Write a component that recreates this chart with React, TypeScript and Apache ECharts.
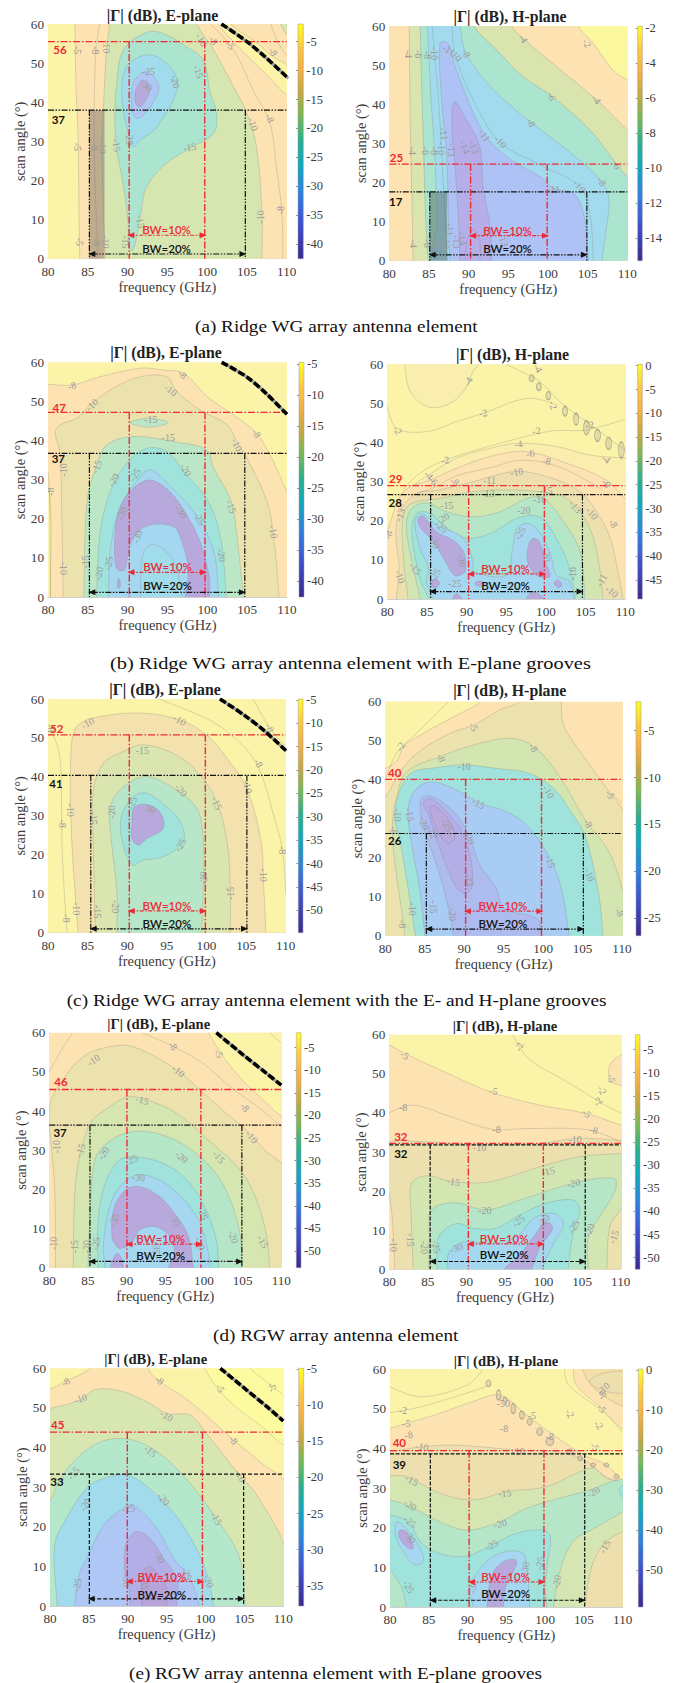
import React, { useEffect, useRef } from "react";
import * as echarts from "echarts";

type Pt = number[];
type Region = [number, Pt[]];
type Label = [number, number, string, number];

// ---------- (a) E-plane
const aE_regions: Region[] = [
  [-5, [[79,-3],[84,-3],[84,0],[83.9,10],[83.8,30],[83.5,45],[83.4,60],[83.4,63],[79,63]]],
  [-10, [[87.5,63],[87.7,60],[87.3,52],[87,40],[86.8,30],[86.9,15],[87.2,0],[87.2,-3],[106.9,-3],[106.9,0],[106.9,11.6],[106.2,28.6],[105,37.2],[103.3,44],[100.8,53.4],[98.7,60],[98.5,63]]],
  [-5, [[102.6,63],[102.9,60],[105.8,55.9],[108.3,51.6],[110.5,48.5],[110.5,41.5],[107.1,47.8],[104.1,53.8],[101.4,60],[101,63]]],
  [-10, [[109,63],[109.2,60],[110.5,56.5],[110.5,63]]],
  [-15, [[92.6,58],[89.5,53.4],[88.6,44],[88.4,36.3],[88.6,28.6],[89.5,18.4],[90.1,8.2],[90.1,3],[90.7,2.2],[91.6,10.7],[92.4,18.4],[94.9,24.4],[97.8,28.2],[100.8,32],[101.2,37.2],[100.4,42.3],[99.5,50.8],[97.4,54.2],[94.9,57.2]]],
  [-20, [[93.2,52],[95.8,47.8],[96.2,43],[93.7,33.7],[91.6,30.3],[90.7,28.6],[90.1,32],[89.3,40.6],[89.5,47.4],[90.7,50.8]]],
  [-25, [[92.4,47.8],[93.9,44.4],[93.4,40.6],[92,36.7],[91.1,35.9],[90.6,38],[90.5,42.3],[90.9,45.7]]],
  [-30, [[92,45.7],[92.8,43.5],[92.4,41],[91.6,38.9],[91,39.7],[91.1,43.5]]],
];
const aE_lines: Pt[][] = [
  [[86.5,60],[86,53],[85.8,29],[86.2,4],[86.3,0]],
  [[100.4,60],[103.3,53.4],[105.8,43],[107.9,34.6],[108.7,23.5],[109.4,11.6],[109.5,0]],
  [[108,60],[109,55],[110,52]],
];
const aE_labels: Label[] = [
  [83.7,53.3,"-5",-90],[86,53.3,"-8",-90],[87.3,54.2,"-10",-90],[99.3,55.9,"-10",-60],[100.8,55.7,"-8",-60],[102.9,54.6,"-5",-50],[108.3,52.9,"-8",-60],
  [92.6,47.8,"-25",0],[92.4,44.4,"-30",-45],[96,45.3,"-20",-80],[98.9,47.8,"-15",-70],[107.9,35.9,"-8",-70],[105.8,34.4,"-10",-70],[90.3,30.8,"-20",-90],
  [88.6,29,"-15",-80],[97.8,28.5,"-15",10],[83.7,28.6,"-5",-90],[85.8,28.6,"-8",-90],[86.8,28.6,"-10",-90],[83.9,4.3,"-5",-90],[86.1,4.3,"-8",-90],
  [87.2,4.3,"-10",-90],[91.6,9.5,"-15",-80],[89.7,4.3,"-15",-90],[106.7,10.7,"-10",90],[109.2,12.4,"-8",90],
];
const aE_thick: Pt[] = [[101.8,60],[105,55.5],[107.5,51.2],[110.2,46.1]];
const aE_shade: Pt[] = [[85.2,0],[87.1,0],[87.1,38],[85.2,38]];
const aE_ticks = [-5,-10,-15,-20,-25,-30,-35,-40];

// ---------- (a) H-plane
const aH_regions: Region[] = [
  [-2, [[103.5,63],[103.8,60],[105.7,55.6],[108.2,48.7],[110,46.2],[110.5,46],[110.5,63]]],
  [-4, [[82.4,63],[82.5,60],[82.6,40],[82.8,20],[83,0],[83,-3],[110.5,-3],[110.5,33],[110,33.4],[106.1,41.2],[101.1,49.6],[96.9,56.8],[95.4,60],[95,63]]],
  [-6, [[83.8,63],[83.9,60],[84,50],[84.3,30],[84.6,10],[84.9,0],[84.9,-3],[110.5,-3],[110.5,21],[110,21.5],[108.7,24.5],[105.3,33.4],[100.5,42],[96.9,47],[93.5,53.9],[90.6,60],[90.4,63]]],
  [-8, [[84.7,63],[84.8,60],[85.3,40],[85.7,28],[86,10],[86,-3],[106.8,-3],[106.8,0],[107.4,8.7],[107.7,15.5],[106.8,20.2],[102,29],[97.9,35.3],[93,44],[89.7,53],[88.9,60],[88.8,63]]],
  [-11, [[86.4,55.6],[86.6,41],[87.2,28.3],[87.4,15.5],[87.6,0],[87.6,-3],[105.1,-3],[105.1,0],[104.5,12],[103.2,17.2],[100.7,18.5],[99,21.5],[94.8,26.6],[91.8,33],[88.3,49.6],[87.4,55.6]]],
  [-13, [[88.2,40.6],[87.9,34],[88.3,24],[88.7,11.2],[88.9,0],[88.9,-3],[92.9,-3],[92.9,0],[92.7,8.7],[91.8,19],[91.4,29.1],[89.5,36.8]]],
];
const aH_lines: Pt[][] = [
  [[85.4,60],[86.2,41],[86.6,28],[87,12],[87.3,0]],
  [[87.9,60],[88.3,52.6],[90.6,41],[93.9,30.4],[99,24.5],[104,19],[105.3,12],[105.7,0]],
  [[89.6,0],[89.8,5],[90.6,8],[91.4,5],[91.4,0]],
];
const aH_labels: Label[] = [
  [82.4,52.8,"-4",-90],[83.7,52.8,"-6",-90],[84.8,52.6,"-8",-90],[85.7,53,"-10",-90],[87.5,53.9,"-11",-30],[88.4,52.6,"-10",-50],[89.7,53,"-8",-60],
  [96.9,56.8,"-4",-60],[104.9,55.6,"-2",-60],[100.5,42,"-6",-70],[106.1,41.2,"-4",-50],[97.9,35.3,"-8",-70],[92,32,"-11",-55],[94,30.4,"-10",-45],[90.7,29.1,"-13",-70],
  [82.9,28.1,"-4",-90],[84.5,28.1,"-6",-90],[85.7,28.1,"-8",-90],[86.9,32.5,"-11",-80],[86.6,28.7,"-10",-90],[87.9,28.3,"-13",-90],[89.5,29,"-14",-70],
  [108.7,24.5,"-6",-70],[106.8,20.2,"-8",-60],[104,19,"-10",-50],[100.7,18.3,"-11",0],[83,4.3,"-4",-90],[84.8,4.4,"-6",-90],[86,4.4,"-8",-90],[87.1,4.6,"-10",-90],
  [87.6,8,"-11",-90],[88.5,4.8,"-13",-90],[89.2,5.7,"-14",-80],[94.4,5.3,"-13",-70],
];
const aH_shade: Pt[] = [[85.1,0],[87.3,0],[87.3,17.6],[85.1,17.6]];
const aH_ticks = [-2,-4,-6,-8,-10,-12,-14];

// ---------- (b) E-plane
const bE_regions: Region[] = [
  [-8, [[79,54.4],[80,54.4],[83,54.2],[86.5,56.3],[91.6,58.5],[94.5,58],[97,57.2],[100,51.2],[103.3,46.5],[106.2,41.8],[108.3,34.6],[110,26.9],[110.5,26],[110.5,-3],[80.3,-3],[80.3,0],[80.2,26],[79,32]]],
  [-10, [[81.9,-3],[81.9,0],[81.7,24],[81.5,37],[80.9,42],[81.5,44],[83.6,45.7],[85.3,49.1],[88.2,53.4],[91.6,56.3],[94.9,56.3],[96.2,52.5],[99.1,47.8],[102.5,44],[103.7,39.7],[105,35.4],[107.5,24.4],[108.3,15.8],[109,0],[109,-3]]],
  [-15, [[84.5,-3],[84.5,0],[84.9,24.4],[86.1,33.7],[87.4,38.9],[90.7,41],[95.8,39.7],[99.9,37.6],[100.8,32.9],[103,24.4],[103.7,15.8],[104.5,0],[104.5,-3]]],
  [-15, [[90.3,44.6],[92.6,45.7],[95.1,44.6],[92.6,43.4]]],
  [-20, [[86.1,-3],[86.1,0],[86.5,15.8],[87.8,26.9],[89.9,34.2],[92.4,38],[94.9,37.2],[97.4,31.2],[99.9,25.2],[101.6,15.8],[102.4,0],[102.4,-3]]],
  [-25, [[87.6,-3],[87.6,0],[87.8,11.6],[89,22.7],[91.1,29.5],[92.8,32.5],[95.2,28.6],[98.6,21],[100.8,11.6],[101.4,0],[101.4,-3]]],
  [-30, [[88.4,15.8],[89,22.7],[90.7,27.8],[92.8,29.9],[95.3,26.9],[97.4,21],[99.1,14.1],[100.2,5.6],[100.3,-1],[100.3,-3],[97.2,-3],[97.2,-1],[97.6,7.3],[96.8,14.1],[95.8,17.9],[92.8,18.4],[90.9,15.8],[90.1,11.6],[89.6,6.9],[88.6,7.3]]],
  [-30, [[88.7,3],[88.9,4.8],[89.1,3],[88.9,2.2]]],
  [-35, [[91.6,-3],[91.6,0],[92,11.6],[93.5,13.3],[95.8,9],[96.8,0],[96.8,-3]]],
];
const bE_lines: Pt[][] = [[[80.3,0],[80.2,26],[80,32]]];
const bE_labels: Label[] = [
  [83,54,"-8",15],[85.5,49.1,"-10",45],[96.9,56.9,"-8",-45],[95.4,52.9,"-10",-35],[92.9,45.3,"-15",0],[95.1,40.8,"-15",0],[106.2,41.8,"-8",-60],[103.7,38.9,"-10",-65],
  [81.9,32.5,"-10",90],[80.3,26.9,"-8",90],[86.1,33.3,"-15",70],[88.2,29.9,"-20",60],[90.9,31.2,"-25",60],[97.3,32.5,"-20",-60],[103,23.1,"-15",-70],[108.3,16.7,"-10",-80],
  [99,20.1,"-25",-60],[96.7,21.8,"-30",-55],[89.3,21.4,"-30",70],[91.2,15.4,"-30",70],[101.8,10.7,"-20",-80],[81.9,7.3,"-10",-90],[84.7,9,"-15",90],[86.4,6,"-20",80],[87.6,8.6,"-25",80],
];
const bE_thick: Pt[] = [[101.8,60],[105,56.2],[107.5,51.8],[110,46.7]];
const bE_ticks = [-5,-10,-15,-20,-25,-30,-35,-40];

// ---------- (b) H-plane
const bH_regions: Region[] = [
  [-3, [[82.2,63],[82.2,60],[82.9,53],[85,49.2],[87.5,49.6],[89.6,53],[90.8,58.1],[91.5,60],[91.6,63]]],
  [-4, [[79,12],[80,17],[81.5,25],[83.3,29.1],[85.2,31.7],[88.7,36],[92.9,38.5],[96.5,39.8],[101.3,39],[105.5,36.8],[110.2,36],[110.5,36],[110.5,-3],[79,-3]]],
  [-6, [[79,12],[80,17.2],[82,27.4],[85.4,30.4],[88.7,33.4],[92.9,36.4],[97.4,37.7],[102.6,34.7],[107.6,30.4],[110,25.7],[110.5,25],[110.5,-3],[79,-3]]],
  [-10, [[82,-3],[81.5,8],[81.2,19.8],[83.3,26.6],[86.6,27.9],[90.8,30],[96.3,32.6],[100.9,30.8],[104.3,27.4],[106.4,22.3],[108.1,15.5],[109,7.8],[109.7,0],[109.7,-3]]],
  [-15, [[82.6,-3],[82.6,0],[82,11.2],[82,21.5],[83.1,24.5],[86.6,25.7],[90.8,27.4],[95,27.9],[99.2,27.4],[102.6,25.7],[105.1,19.8],[106.4,12.1],[107.2,0],[107.2,-3]]],
  [-20, [[84.1,-3],[84.1,0],[83.1,9.5],[82.4,18.9],[83.1,23.2],[85,24.5],[87.5,22.3],[90.8,21],[94.2,22.3],[97.6,25.7],[99.7,25.7],[102.2,19.8],[104.3,12.1],[104.9,0],[104.9,-3]]],
  [-25, [[85.2,-3],[85.2,0],[84.1,5.3],[83.1,17.2],[83.7,21.9],[85.4,21.9],[87.9,17.6],[90.4,15.5],[93.4,17.2],[96.3,20.6],[99.2,21],[101.3,15.5],[103,7.8],[103.7,0],[103.7,-3]]],
  [-30, [[83.5,19.8],[84.3,21.9],[86.2,18.9],[89.6,15.5],[90.8,9.5],[90.8,7],[95,6.1],[95.8,13],[96.3,18],[97.6,19.3],[98.8,18],[100.5,12],[101.3,6.1],[103,4.4],[103,-3],[85.8,-3],[85.8,0],[84.9,4.4],[85.2,7.8],[84.1,13]]],
  [-35, [[83.9,20.6],[84.5,21.2],[86.2,17.2],[88.3,15],[89.6,12.1],[89.8,7],[88.5,6],[87.1,10.4],[85.8,14.6],[84.1,18.5]]],
  [-35, [[97.8,13.8],[98.4,15.5],[99.2,14.6],[99.9,9.5],[100.5,5.7],[98.8,6.1],[97.7,9.5]]],
  [-35, [[85.5,4],[86,5.1],[86.6,4],[86,2.7]]],
  [-35, [[91,4],[91.7,4.6],[92.3,3.8],[91.7,3.2]]],
  [-35, [[88.1,-1],[88.7,1.4],[89.6,-1]]],
  [-35, [[101,4],[101.5,4.8],[102,3.6],[101.6,2.9]]],
  [-35, [[97.4,-1],[98.4,1.9],[100.1,-1]]],
];
const bH_lines: Pt[][] = [
  [[80,49.2],[81.2,43.6],[85,42.8],[88.7,45.3],[92.1,47.5],[97.6,51.3],[100.9,50]],
  [[82,28],[84,32],[87.3,35.5],[94.9,40.2],[100.8,43],[105.1,43.2],[110,46]],
  [[83,26.5],[86,28.6],[88.7,31.5],[92.9,33.5],[97,35.5],[102,33.5],[107,28]],
  [[95,60],[97,58],[99,56],[102,50],[106,44],[110,38]],
];
const bH_ripples: number[][] = [
  [98.2,56.4,5,7],[99.1,54.3,5,8],[100.3,52,5,8],[102.4,48,5,10],[103.8,46,5,12],[105.1,43.8,6,14],[106.5,41.8,6,12],[107.9,39.8,6,12],[109.5,38.1,6,16],
];
const bH_labels: Label[] = [
  [90.2,55.6,"-4",60],[92.1,47.5,"-2",10],[81.3,43.2,"-2",-60],[98.8,43,"-2",5],[87.3,35.5,"-2",10],[99,59,"-4",-60],[100.9,49.6,"-2",-70],[105.5,44.5,"-2",10],[107.6,35.8,"-4",-40],
  [85.2,31.7,"-4",-45],[85.8,30.2,"-6",-45],[88.5,30,"-8",-30],[96.5,39.6,"-4",10],[98,37.2,"-6",10],[100.1,35.3,"-8",-10],[96.3,32.5,"-10",10],[92.9,30.4,"-11",0],[92.7,27,"-13",0],
  [100,27.7,"-15",0],[99.2,25.4,"-16",0],[87.5,23.8,"-15",0],[97.2,22.6,"-20",0],[87,20.6,"-20",30],[86.8,18.5,"-25",-40],[86,14.6,"-30",-70],[96.7,16.8,"-25",60],[89.4,9.9,"-30",-80],
  [100.1,11.2,"-30",-80],[88.5,4,"-25",0],[105.8,21.9,"-10",-50],[103.7,23.6,"-13",-50],[108.5,19.3,"-8",-60],[107.6,29.6,"-6",-50],[81.6,5.7,"-10",-70],[83.5,7.8,"-15",-50],
  [80.1,16.4,"-8",70],[107,4.8,"-11",60],[108.3,1.9,"-10",-40],[81.6,21.5,"-13",70],[86,6.1,"-25",60],[103.3,6.5,"-16",90],
];
const bH_ticks = [0,-5,-10,-15,-20,-25,-30,-35,-40,-45];

// ---------- (c) E-plane
const cE_regions: Region[] = [
  [-10, [[83.8,-3],[83.8,0],[83,23.4],[82.9,46.5],[83.8,53.3],[87.8,55.9],[92.5,56.3],[96.7,54.6],[100,50.8],[102.6,44.8],[105.1,37],[106.9,23.4],[107.2,13],[107.5,0],[107.5,-3]]],
  [-15, [[86,-3],[86,0],[85.7,23.4],[85.7,36.2],[87,43.5],[89.5,46.5],[92,48.2],[96.2,45.6],[99.2,40.5],[101.3,33.6],[102.6,23.4],[103,11.4],[103,0],[103,-3]]],
  [-20, [[88.7,-3],[88.7,0],[88.7,10.5],[88,23.4],[87.8,31],[88.5,35.3],[90.8,39.2],[92.9,40],[96.2,36.6],[98.8,31.9],[99.6,23.4],[99.6,11.4],[99.4,0],[99.4,-3]]],
  [-25, [[90.6,17.4],[89.3,24.2],[89.3,30.2],[90.8,35],[92.5,35.8],[95,32.3],[96.7,28.5],[97.1,23.4],[94.6,19.5],[92,18.6]]],
  [-30, [[90.6,28.5],[90.8,31.9],[92,33],[93.7,31.9],[94.6,28.9],[94.4,26.4],[92.5,24.2],[91.4,22.5],[90.6,24.2]]],
];
const cE_lines: Pt[][] = [
  [[82.4,0],[81.8,20],[81.7,35],[81.5,45],[80.8,50],[80,52]],
  [[94,60],[100,55],[103,51],[106.3,43.5],[108.5,30],[109.6,21],[110,10]],
  [[105.9,60],[108,52.5],[110,47.8]],
];
const cE_labels: Label[] = [
  [85,53.8,"-10",30],[96.6,54.6,"-10",-30],[108,52.5,"-8",-70],[80.3,52.5,"-8",-90],[91.9,46.9,"-15",0],[96.8,36.6,"-20",-50],[101.3,33.2,"-15",-65],[106.6,43.5,"-8",-60],[105.2,37.5,"-10",-75],
  [90.6,33.2,"-25",70],[92.7,31.9,"-30",-15],[82.9,31.5,"-10",-90],[81.8,28,"-8",-90],[85.8,29.4,"-15",-90],[88,31,"-20",90],[96.7,22.5,"-25",60],[109.6,21.2,"-8",-90],[107.2,14.8,"-10",-90],
  [103,10.1,"-15",90],[99.6,14,"-20",90],[88.5,6.7,"-20",-90],[86.2,5.4,"-15",-90],[83.6,6.2,"-10",-90],[82.3,3.7,"-8",-90],
];
const cE_thick: Pt[] = [[101.7,60],[104.8,55.8],[107.5,51.5],[110.1,46.6]];
const cE_ticks = [-5,-10,-15,-20,-25,-30,-35,-40,-45,-50,-55];

// ---------- (c) H-plane
const cH_regions: Region[] = [
  [-2, [[79,43],[80,42.9],[81.5,45],[82.3,48.5],[84.5,51.5],[87.5,54.9],[90,57.5],[92,60],[92,63],[79,63]]],
  [-5, [[79,35],[80,35.6],[81.9,42],[84,46.8],[88.2,51.9],[91.2,54],[94.5,57.9],[97,60],[97,63],[102.3,63],[102.3,60],[102.6,54],[104.7,47.2],[108.5,36.5],[110.5,30],[110.5,-3],[79,-3]]],
  [-8, [[82.5,-3],[82.5,0],[81.2,19],[80.9,28.4],[81.4,35.2],[82.7,42],[86.9,45.9],[91.2,48.9],[95.8,50.6],[98.8,48.5],[101.7,42],[105.5,29.2],[108.1,22.4],[109.5,15.6],[110.5,7],[110.5,-3]]],
  [-10, [[83.8,-3],[83.8,0],[81.9,24],[81.2,31],[82.1,38.6],[83.5,42],[86.1,43],[89.9,43.8],[94.1,42.9],[98.3,41.6],[101.3,37.8],[103.8,31],[105.3,25.8],[107,11.3],[107.6,0],[107.6,-3]]],
  [-15, [[85,-3],[85,0],[84.4,11.3],[83.3,24],[82.9,32.6],[83.8,37.4],[85.7,39.4],[88.6,37.8],[92,34],[95.4,31.8],[97.9,28.4],[100.4,21.5],[102.1,13.8],[103.3,0],[103.3,-3]]],
  [-20, [[88.6,-3],[88.6,0],[88.2,5.3],[86.9,15.6],[85.2,25.8],[84.4,32.6],[84.8,35.6],[86.5,35.2],[89,31],[90.7,25],[92,18.1],[94.1,12.1],[95,7],[99.2,4.4],[99.8,0],[99.8,-3]]],
  [-22, [[88.8,13],[86.9,22.4],[85.5,30.9],[84.8,33.9],[85.7,35.2],[87.8,31.8],[89.7,26.7],[90.9,19],[90.9,12],[89.9,11]]],
  [-25, [[85.6,33],[86.3,33.2],[88.2,29.2],[88.8,25],[87.8,23.7],[86.5,27.5]]],
];
const cH_lines: Pt[][] = [
  [[80,40],[81.5,47],[84,52],[86,56],[88,60]],
  [[108.5,36.5],[110,34]],
];
const cH_labels: Label[] = [
  [81.9,48.5,"-2",60],[91.2,53.6,"-5",-60],[87.1,45.6,"-8",-70],[90,43.3,"-10",0],[98.8,48.2,"-8",-60],[108.5,36.2,"-5",-60],[100.7,36.9,"-10",-60],[91.8,33.9,"-15",-30],[105.7,28.8,"-8",-60],
  [81.5,31,"-10",-90],[83.1,31,"-15",-80],[84.9,28.8,"-20",-70],[86,26.6,"-22",-70],[87.8,28.4,"-25",-60],[90.7,25.1,"-20",-70],[81.1,27,"-8",-90],[100.9,19,"-15",-70],[105.9,15.6,"-10",-70],
  [90.7,14.3,"-22",-80],[83.5,6.8,"-10",-90],[82.2,3,"-8",-90],[86.1,7.4,"-15",-90],[88.5,5.5,"-20",-90],[109.7,6,"-8",-60],
];
const cH_ticks = [-5,-10,-15,-20,-25];

// ---------- (d) E-plane
const dE_regions: Region[] = [
  [-5, [[100.6,63],[100.6,60],[103.8,50.5],[107.2,43.7],[110.5,39],[110.5,63]]],
  [-10, [[80.8,-3],[80.8,0],[80.7,20],[80.3,30],[80,40.7],[81.4,47],[84.4,53.9],[87.8,56.4],[90.9,56.4],[96.5,50.5],[99.5,45.4],[102.9,39.4],[105.5,35.1],[108.1,29.6],[110.5,25],[110.5,-3]]],
  [-15, [[83.1,-3],[83.1,0],[83.3,19],[84,29.2],[85.3,36.9],[86.6,39.4],[90,43.5],[92.6,42.8],[96.5,39.4],[100.3,33],[104.7,24.9],[106.8,17.3],[108.1,8],[108.5,0],[108.5,-3]]],
  [-20, [[85,-3],[85,0],[85.3,14.7],[85.9,27.5],[87.4,31.7],[90.4,34.6],[93.9,34.3],[97.8,30.9],[101.2,24.9],[103.4,17.3],[104.7,8],[104.9,0],[104.9,-3]]],
  [-25, [[86.3,-3],[86.3,0],[86.3,11.3],[87.2,21.5],[89.1,27.5],[91.3,28.3],[95.2,26.2],[98.2,21.5],[100.3,14.7],[101.6,7],[101.9,0],[101.9,-3]]],
  [-30, [[87.2,-3],[87.2,0],[87,6.2],[88.1,17.3],[90,22.4],[92.2,23.7],[95.6,20.7],[99.1,13],[100.3,6.2],[100.8,0],[100.8,-3]]],
  [-35, [[88.1,7.9],[88.3,14.7],[89.8,19.8],[91.7,20.7],[94.3,18.1],[96.5,13],[98,7.9],[98.6,0],[98.6,-3],[95.4,-3],[95.4,0],[96.2,3.7],[95.6,7.9],[93.7,10.5],[91.7,9.6],[90.6,6.2],[89.1,4.9],[88.5,6]]],
  [-35, [[87.9,-1],[88.7,3.7],[89.4,2],[89.4,-1]]],
];
const dE_lines: Pt[][] = [
  [[80,50],[82,57],[83,60]],
  [[92,60],[96.5,56],[100,52],[103.5,46],[107,41],[110,36]],
  [[108.5,60],[110,57.3]],
];
const dE_labels: Label[] = [
  [85.7,53,"-10",35],[96,56.7,"-8",-50],[96.7,50.2,"-10",-40],[101.9,54.7,"-5",-60],[105.3,41,"-8",-50],[92,42.8,"-15",-15],[106.2,33.4,"-10",-50],[101.9,28.3,"-15",-50],[97.1,28.3,"-20",-40],
  [80.9,30.9,"-10",90],[84,30,"-15",70],[87,29.2,"-20",55],[90.6,27.5,"-25",30],[91.5,23,"-30",0],[88.4,12.2,"-35",70],[96.3,12.2,"-35",-60],[99.9,13.9,"-25",-70],[103.8,7.9,"-20",-70],
  [107.6,6.6,"-15",-60],[80.5,6.2,"-10",90],[83.2,5.4,"-15",90],[84.8,5.4,"-20",90],[86,6.2,"-25",80],[93.8,5,"-35",-90],[99.5,6.2,"-30",-70],
];
const dE_thick: Pt[] = [[101.6,60],[105.1,54.3],[108.1,49.6],[110,46.6]];
const dE_ticks = [-5,-10,-15,-20,-25,-30,-35,-40,-45,-50];

// ---------- (d) H-plane
const dH_regions: Region[] = [
  [-5, [[79,58],[80,57.4],[82,55.2],[86.6,51],[93.1,45.4],[99.5,42],[105.4,39.9],[110,36.9],[110.5,36.6],[110.5,-3],[79,-3]]],
  [-5, [[110.5,54.8],[110,54.8],[108.6,52.2],[108.6,48.4],[110,47],[110.5,47]]],
  [-10, [[80.7,-3],[80.7,0],[80.3,15],[79.5,25],[79.5,32],[84.8,32.6],[91.3,31.8],[99.5,32.2],[104.3,33.5],[110,33],[110.5,33],[110.5,-3]]],
  [-15, [[83.1,-3],[83.1,0],[82.8,15.2],[82.9,22],[84.8,23.9],[88.3,22.4],[93.1,22.4],[99.5,26.2],[104.7,28.8],[110,29.6],[110.5,29.6],[110.5,16],[110,15.2],[108.6,10.9],[108.2,0],[108.2,-3]]],
  [-20, [[85.1,-3],[85.1,0],[85.2,8.3],[85.5,15.2],[88.5,17],[92.6,15.2],[96.9,17.7],[103.9,22],[109.1,23.3],[109.3,20.3],[107.3,13.5],[105.8,8.3],[105.8,0],[105.8,-3]]],
  [-25, [[86.2,-3],[86.2,0],[86.4,8.3],[88.7,11.7],[90.9,10.5],[93.9,10.5],[96.5,13.5],[100.4,16.9],[103.9,17.7],[104.7,15.2],[103.9,10],[103.2,0],[103.2,-3]]],
  [-30, [[87.6,-3],[87.6,0],[87.7,4],[89.6,7],[93.1,6.6],[96.5,8.3],[98.7,13],[101.3,14.3],[102.6,11.7],[101.3,6.6],[99.8,0],[99.8,-3]]],
  [-35, [[94.9,-3],[94.9,0],[96.5,2.8],[98.7,8.3],[100,11.7],[100.9,11.7],[101.1,10],[99.6,5.8],[98.5,0],[98.5,-3]]],
];
const dH_lines: Pt[][] = [
  [[80,40],[83,42],[88,39],[93.4,35.8],[98,36],[106,35.6],[110,32.5]],
  [[96,60],[98,54],[103,48],[108,42],[110,40]],
];
const dH_labels: Label[] = [
  [82,54.8,"-5",-30],[96.8,56.9,"-2",70],[93.5,45.6,"-5",-10],[107.6,45.8,"-2",-60],[107,42.9,"-2",50],[105.6,39.9,"-5",-40],[108.8,48.8,"-5",-80],[81.8,41.4,"-8",0],[93.9,35.8,"-8",0],
  [106.5,35.6,"-8",-10],[104.1,33.1,"-10",0],[91.7,31.1,"-10",0],[100.6,25,"-15",15],[88.3,22.4,"-15",-10],[103.9,22,"-20",15],[92.4,15,"-20",0],[105.9,10,"-20",70],[103.9,10.9,"-25",60],
  [96.7,12.4,"-25",40],[100,12.4,"-30",50],[88.7,5.4,"-30",20],[80.5,6.2,"-10",-90],[82.7,7.5,"-15",-90],[84.6,5.6,"-20",-90],[86.1,5.8,"-25",-80],[109.1,8.3,"-15",70],
];
const dH_ticks = [-5,-10,-15,-20,-25,-30,-35,-40,-45,-50];

// ---------- (e) E-plane
const eE_regions: Region[] = [
  [-8, [[79,55],[80,54.8],[81.9,56.6],[85.1,60],[85.1,63],[92.6,63],[92.6,60],[93.9,57],[98,51.6],[103.6,41.9],[107,36.4],[110.5,30],[110.5,-3],[79,-3]]],
  [-5, [[99.9,63],[99.9,60],[102.7,52.4],[107,45.7],[110.5,41],[110.5,63]]],
  [-10, [[79,49.9],[80,49.9],[83.9,52],[85.6,54.5],[88.6,54.5],[92.4,51.6],[95,48.6],[98,48.2],[100.1,43.6],[104.4,33],[106.6,28],[110.5,13],[110.5,-3],[79,-3]]],
  [-15, [[79,26],[80,26.5],[80.9,30.5],[83,36.4],[86,41],[89,42.3],[92.4,40.6],[96.3,34.7],[101.4,22.1],[104.4,12],[105.1,0],[105.1,-3],[79,-3]]],
  [-20, [[80.9,-3],[80.9,0],[80.6,15.4],[82.1,22.1],[84.7,29.7],[86.9,32.2],[90.3,32.8],[94.6,26.3],[97.6,18.8],[100.1,8.7],[101,0],[101,-3]]],
  [-25, [[83.2,-3],[83.2,0],[83.6,7],[84.7,12],[86.9,20.4],[89.4,24.6],[90.7,25.5],[93.7,19.6],[95.9,12],[98,7],[99.2,0],[99.2,-3]]],
  [-30, [[89.6,13.7],[89.9,16.2],[91.1,18.8],[92.9,17],[94.6,12],[96.3,7],[96.3,0],[96.3,-3],[90.3,-3],[90.3,0],[90.1,5.3],[89.6,8.7]]],
  [-35, [[92.2,9.5],[93.3,9.5],[95,4.4],[95,0],[95,-3],[91.8,-3],[91.8,0],[91.8,5.3]]],
];
const eE_lines: Pt[][] = [[[105.7,60],[108,56.3],[110,53.3]]];
const eE_labels: Label[] = [
  [82,56.6,"-8",30],[94.1,57,"-8",-40],[108.5,55.1,"-5",60],[101.9,55,"-5",-60],[83.9,52.4,"-10",20],[95,48,"-10",-30],[103.6,41.9,"-8",-50],[104.5,32.9,"-10",-60],[92.9,39.1,"-15",-40],
  [83,33.5,"-15",50],[101.4,22.1,"-15",-60],[94.6,27,"-20",-50],[84.5,25.5,"-20",60],[90.1,24.6,"-25",10],[94.1,12.4,"-30",-65],[83.5,5.3,"-25",80],[100.4,6.3,"-20",-70],[97.6,8.2,"-25",-70],
  [89.9,6.5,"-30",-90],[92.1,5.7,"-35",-90],
];
const eE_thick: Pt[] = [[101.9,60],[105.3,54.5],[107.9,50.3],[110,46.7]];
const eE_ticks = [-5,-10,-15,-20,-25,-30,-35];

// ---------- (e) H-plane
const eH_regions: Region[] = [
  [-5, [[79,45],[80,45],[82.1,46.3],[86.4,48.8],[90.7,51.8],[94.2,53.4],[97.6,48.4],[100.2,44.6],[103.6,40],[105.4,37.9],[107.9,35.8],[110,31.6],[110.5,31],[110.5,-3],[79,-3]]],
  [-10, [[79,39.2],[80,39.2],[84.1,40.4],[88.6,40.8],[96.3,39.6],[101.5,39.2],[105.1,37],[107.5,33.3],[110,30.8],[110.5,30],[110.5,-3],[79,-3]]],
  [-15, [[79,33],[80,33.1],[82.1,32.9],[86.4,28.7],[90.7,27],[95,29.1],[100.2,30.3],[103.6,33.3],[106.2,35],[107.9,32.4],[110.5,30.8],[110.5,19],[110,19],[107.9,16.5],[106.2,11.4],[105.1,0],[105.1,-3],[79,-3]]],
  [-20, [[79,27],[80,27],[82.6,25.3],[86.4,21.5],[89.9,19.4],[94.2,21.5],[97.6,24.9],[102,27.5],[105.1,29.1],[110.5,32],[110.5,25],[110,24],[106.5,20],[103.6,16.5],[101.9,8.9],[101.1,0],[101.1,-3],[79,-3]]],
  [-25, [[82.1,-3],[82.1,0],[81.5,4.7],[80,9.3],[79,9.3],[79,23.2],[80,23.2],[82.4,21.5],[83.9,16.5],[86.4,13.5],[89.9,12.9],[93.1,15.6],[96.3,18.6],[99.8,19.4],[100.7,17.7],[100.4,12.3],[100,5.5],[100.2,0],[100.2,-3]]],
  [-25, [[109.5,29.5],[110.5,31],[110.5,27]]],
  [-30, [[80.9,21.5],[82.4,19],[83.9,14.8],[84.3,11.4],[83,10.8],[81.7,14],[80.7,18.2]]],
  [-30, [[90.7,-3],[90.7,0],[90.3,4.7],[92.4,11.4],[95,14],[97.2,13.5],[97.6,9.7],[97.8,7.2],[98,0],[98,-3]]],
  [-35, [[81.3,19.4],[82.1,19],[82.8,16.5],[83,14.8],[82.4,14.8],[81.5,16.5],[81.1,18.2]]],
  [-35, [[92.5,-3],[92.5,0],[93.1,8],[94.6,11.4],[96.1,12],[96.3,10.6],[95,5.5],[94.6,0],[94.6,-3]]],
  [-5, [[103.4,63],[103.6,60],[104,56],[106.8,50.9],[110.5,45],[110.5,63]]],
  [-8, [[104.8,63],[104.8,60],[106.4,55],[110.5,51],[110.5,63]]],
  [-10, [[105.8,57.2],[107.4,58.9],[110.5,59],[110.5,54.4],[107.9,54.3],[105.8,56.4]]],
];
const eH_lines: Pt[][] = [
  [[80,55.5],[84,53],[90,56],[92,60]],
  [[80,49],[84,50.5],[90,54],[93,56]],
  [[102.5,60],[103,56],[107.6,49],[110,44]],
];
const eH_ripples: number[][] = [
  [92.7,56.4,5,7],[94,53.4,5,10],[94.8,52.2,4,6],[95.9,50,5,10],[97,48.4,5,8],[98,46.7,5,7],[99.3,44.2,6,8],[100.6,41.7,8,8],[103.2,39.2,7,5],[104.5,37.5,5,5],[106.2,35.8,5,4],[107.9,35.8,5,4],[109.2,32.9,5,5],
];
const eH_labels: Label[] = [
  [81.7,49.5,"-2",0],[82.1,46.3,"-5",0],[82.4,43.4,"-8",10],[84.1,40.4,"-10",-10],[94.6,51.3,"-50",0],[98.3,48.2,"-5",0],[94.7,45,"-8",0],[100.6,42.9,"-8",0],[96.5,39.3,"-10",0],
  [103.2,48.8,"-2",-60],[106.9,45.9,"-2",-50],[107.3,50.1,"-5",-50],[107.3,53.4,"-8",60],[107.5,55.1,"-10",40],[106.4,40.4,"-5",-50],[82.8,32,"-15",-30],[82.6,25.7,"-20",-35],[82.6,21.5,"-25",-40],
  [82.6,17.7,"-30",-60],[94.8,28.7,"-15",5],[94.2,21,"-20",15],[93.1,15.6,"-25",30],[106.2,29,"-20",30],[107.7,15.2,"-15",60],[99.3,11,"-25",80],[101.5,6.4,"-20",80],[82.4,5.1,"-25",-60],
  [97.4,9.7,"-30",80],[90.7,5.1,"-30",80],
];
const eH_ticks = [0,-10,-20,-30,-40,-50];

// ---------- styles and layout
const SERIF = '"Liberation Serif"';
const Y = "#FBF3A8", O = "#FDE3B2", T = "#ECE2AE", G = "#D6E6B1", M = "#B6E6C8", M2 = "#ABE5D0", A = "#9FE3DC", S = "#A6D7F1", P = "#AFC7F4", L = "#B8A9DD", V = "#B3AEE6";
const RAMP = [[0,"#FFFF20"],[0.1,"#FFC840"],[0.2,"#F5AE45"],[0.3,"#C0A840"],[0.38,"#7FB850"],[0.5,"#25B090"],[0.6,"#10A8C0"],[0.72,"#2E80E0"],[0.85,"#3F4FD0"],[1,"#3A2A90"]];
const CONTOUR = "rgba(120,120,120,0.38)";

type Panel = {
  x0: number; x1: number; y0: number; y1: number; cb0: number; cb1: number;
  top: number; bottom: number; ticks: number[];
  bg: string; fill: Record<string, string>;
  regions: Region[]; lines: Pt[][]; labels: Label[];
  red: number[]; black: number[]; blackDash: number[];
  num: [number, number, string, number, number, string];
  bw: [number, number, number];
  thick?: Pt[]; shade?: Pt[]; shadeColor?: string; ripples?: number[][];
  title: [number, number, string, number];
};
const RD = [7, 2, 1.5, 2];
const BD = [6, 1.5, 1.5, 1.5, 1.5, 1.5];

const panels: Panel[] = [
  { x0: 48, x1: 286.7, y0: 24, y1: 258.7, cb0: 298, cb1: 303.3, top: -1.95, bottom: -42.5, ticks: aE_ticks, bg: O,
    fill: { "-5": Y, "-10": G, "-15": M2, "-20": "#A0DCEB", "-25": P, "-30": L }, regions: aE_regions, lines: aE_lines, labels: aE_labels,
    red: [55.5, 90.2, 99.7, 6, 90.4, 99.5], black: [38, 85.2, 104.8, 1.2, 85.5, 104.5], blackDash: BD,
    num: [81.5, 53.5, "56", 81.3, 35.6, "37"], bw: [94.9, 7.5, 2.6], thick: aE_thick, shade: aE_shade, shadeColor: "rgba(110,105,100,0.45)", title: [162.5, 15, "|Γ| (dB), E-plane", 15.8] },
  { x0: 389.3, x1: 627.3, y0: 26, y1: 260.7, cb0: 637.7, cb1: 642.3, top: -1.9, bottom: -15.3, ticks: aH_ticks, bg: O,
    fill: { "-2": "#FBF8A0", "-4": "#D9E4AE", "-6": M2, "-8": "#A3DBEE", "-11": "#AFC2F6", "-13": "#B5AEE8" }, regions: aH_regions, lines: aH_lines, labels: aH_labels,
    red: [24.7, 90.25, 99.9, 6.4, 90.5, 99.7], black: [17.6, 85.1, 104.9, 1.5, 85.4, 104.6], blackDash: BD,
    num: [80.9, 26.3, "25", 80.8, 15.1, "17"], bw: [94.9, 7.8, 3], shade: aH_shade, shadeColor: "rgba(90,105,100,0.5)", title: [510, 16.7, "|Γ| (dB), H-plane", 15.8] },
  { x0: 48, x1: 287, y0: 362.3, y1: 597, cb0: 299, cb1: 304, top: -4.7, bottom: -42.5, ticks: bE_ticks, bg: Y,
    fill: { "-8": O, "-10": T, "-15": "#BCE7C6", "-20": A, "-25": S, "-30": L, "-35": "#A0DCEA" }, regions: bE_regions, lines: bE_lines, labels: bE_labels,
    red: [47.2, 90.2, 99.7, 6.3, 90.4, 99.5], black: [36.7, 85.2, 104.7, 1.2, 85.5, 104.4], blackDash: BD,
    num: [81.4, 48.5, "47", 81.3, 35.3, "37"], bw: [95, 7.7, 2.9], thick: bE_thick, title: [166, 352, "|Γ| (dB), E-plane", 15.8] },
  { x0: 387.3, x1: 625.3, y0: 364.3, y1: 599, cb0: 637.7, cb1: 642.3, top: 0.3, bottom: -49, ticks: bH_ticks, bg: Y,
    fill: { "-3": "#F9EEAE", "-4": "#FBEDAE", "-6": O, "-10": "#EDE0AE", "-15": "#D3E6B2", "-20": M, "-25": A, "-30": S, "-35": L }, regions: bH_regions, lines: bH_lines, labels: bH_labels,
    red: [29, 90.25, 99.8, 6.4, 90.5, 99.6], black: [26.7, 85.46, 104.6, 1.9, 85.7, 104.3], blackDash: BD, ripples: bH_ripples,
    num: [81.05, 30.7, "29", 81, 24.7, "28"], bw: [94.9, 7.7, 3.4], title: [512.5, 354, "|Γ| (dB), H-plane", 15.8] },
  { x0: 48, x1: 285.7, y0: 699, y1: 932.7, cb0: 298.3, cb1: 303, top: -4.8, bottom: -54.8, ticks: cE_ticks, bg: Y,
    fill: { "-10": "#F4E2AE", "-15": "#DAE5B0", "-20": "#B8E6C8", "-25": A, "-30": L }, regions: cE_regions, lines: cE_lines, labels: cE_labels,
    red: [50.8, 90.26, 99.86, 5.6, 90.5, 99.6], black: [40.4, 85.4, 105.1, 1, 85.7, 104.8], blackDash: BD,
    num: [81.1, 52.5, "52", 81, 38.3, "41"], bw: [95, 7, 2.4], thick: cE_thick, title: [165, 689, "|Γ| (dB), E-plane", 15.8] },
  { x0: 385.3, x1: 622, y0: 701.7, y1: 935.7, cb0: 636, cb1: 641, top: -1.9, bottom: -26.9, ticks: cH_ticks, bg: O,
    fill: { "-2": Y, "-5": "#EBE2AE", "-8": "#D3E6B2", "-10": A, "-15": "#A8CCF4", "-20": "#AEBBEF", "-22": V, "-25": "#B8A8DC" }, regions: cH_regions, lines: cH_lines, labels: cH_labels,
    red: [40.1, 90.18, 99.8, 6.3, 90.4, 99.6], black: [26.2, 85.2, 105.1, 1.7, 85.5, 104.8], blackDash: BD,
    num: [81.2, 41.9, "40", 81.2, 24.4, "26"], bw: [94.9, 7.7, 3.2], title: [509.7, 690, "|Γ| (dB), H-plane", 15.8] },
  { x0: 49.3, x1: 281.3, y0: 1032.7, y1: 1267.7, cb0: 296.3, cb1: 301, top: -1.7, bottom: -53.7, ticks: dE_ticks, bg: O,
    fill: { "-5": Y, "-10": T, "-15": G, "-20": M, "-25": A, "-30": S, "-35": L }, regions: dE_regions, lines: dE_lines, labels: dE_labels,
    red: [45.5, 90.04, 99.6, 6, 90.3, 99.4], black: [36.4, 85.26, 104.9, 1.6, 85.5, 104.6], blackDash: BD,
    num: [81.5, 47.5, "46", 81.4, 34.5, "37"], bw: [94.4, 7.5, 3.2], thick: dE_thick, title: [158.7, 1024, "|Γ| (dB), E-plane", 14.6] },
  { x0: 389.3, x1: 620.7, y0: 1034.7, y1: 1269.3, cb0: 635.3, cb1: 640, top: -1.8, bottom: -52.5, ticks: dH_ticks, bg: Y,
    fill: { "-5": O, "-10": "#ECE0AE", "-15": "#D3E6B2", "-20": M, "-25": A, "-30": S, "-35": L }, regions: dH_regions, lines: dH_lines, labels: dH_labels,
    red: [32.2, 90.25, 99.97, 6.5, 90.5, 99.7], black: [31.8, 85.3, 105.4, 2, 85.6, 105.1], blackDash: [4, 1.5],
    num: [81.5, 34, "32", 81.5, 29.7, "32"], bw: [94.9, 8, 3.7], title: [505, 1025.7, "|Γ| (dB), H-plane", 14.6] },
  { x0: 50, x1: 283.3, y0: 1368.3, y1: 1606, cb0: 298.7, cb1: 303.7, top: -4.9, bottom: -37.8, ticks: eE_ticks, bg: Y,
    fill: { "-5": "#FDFBA0", "-8": O, "-10": "#D8E6B1", "-15": "#B5E7CB", "-20": "#A2DBEC", "-25": P, "-30": V, "-35": "#B8A3D9" }, regions: eE_regions, lines: eE_lines, labels: eE_labels,
    red: [43.9, 89.94, 99.6, 6.2, 90.2, 99.4], black: [33.3, 85.06, 104.9, 1.8, 85.3, 104.6], blackDash: [4, 2],
    num: [81, 45.7, "45", 80.9, 31.4, "33"], bw: [94.4, 7.4, 3], thick: eE_thick, title: [155.7, 1359, "|Γ| (dB), E-plane", 14.6] },
  { x0: 390, x1: 622.7, y0: 1369, y1: 1607, cb0: 638.3, cb1: 643, top: 0.25, bottom: -59.2, ticks: eH_ticks, bg: Y,
    fill: { "-5": O, "-8": "#F5DFA8", "-10": "#EEE0AE", "-15": "#D5E6B2", "-20": M, "-25": A, "-30": S, "-35": L }, regions: eH_regions, lines: eH_lines, labels: eH_labels,
    red: [39.4, 90.2, 99.85, 6.3, 90.5, 99.6], black: [38.6, 85.2, 105.1, 1.7, 85.5, 104.8], blackDash: [4, 1.5], ripples: eH_ripples,
    num: [81.2, 41.5, "40", 81.2, 36, "39"], bw: [94.9, 7.6, 3.3], title: [506, 1360.7, "|Γ| (dB), H-plane", 14.6] },
];

const captions: [number, number, string, number][] = [
  [195, 326, "(a) Ridge WG array antenna element", 1.13],
  [110, 663, "(b) Ridge WG array antenna element with E-plane grooves", 1.2],
  [66.7, 1000, "(c) Ridge WG array antenna element with the E- and H-plane grooves", 1.135],
  [213, 1335, "(d) RGW array antenna element", 1.127],
  [129, 1673, "(e) RGW array antenna element with E-plane grooves", 1.127],
];

function buildOption() {
  const grid: any[] = [], xAxis: any[] = [], yAxis: any[] = [], series: any[] = [], elements: any[] = [];
  const stops = RAMP.map(([offset, color]) => ({ offset, color }));
  panels.forEach((p, i) => {
    const gi = i * 2, gc = i * 2 + 1;
    grid.push({ left: p.x0, top: p.y0, width: p.x1 - p.x0, height: p.y1 - p.y0, show: false });
    xAxis.push({ gridIndex: gi, type: "value", min: 80, max: 110, interval: 5, splitLine: { show: false },
      axisLine: { show: true, onZero: false, lineStyle: { color: "#cfcfcf", width: 1 } }, axisTick: { show: false },
      axisLabel: { fontFamily: SERIF, fontSize: 13.2, color: "#3c3c3c", margin: 6 },
      name: "frequency (GHz)", nameLocation: "middle", nameGap: 21, nameTextStyle: { fontFamily: SERIF, fontSize: 14.4, color: "#3c3c3c" } });
    yAxis.push({ gridIndex: gi, type: "value", min: 0, max: 60, interval: 10, splitLine: { show: false },
      axisLine: { show: true, onZero: false, lineStyle: { color: "#cfcfcf", width: 1 } }, axisTick: { show: false },
      axisLabel: { fontFamily: SERIF, fontSize: 13.2, color: "#3c3c3c", margin: 4 },
      name: "scan angle (°)", nameLocation: "middle", nameGap: 18, nameTextStyle: { fontFamily: SERIF, fontSize: 14.4, color: "#3c3c3c" } });
    const onAxes = { coordinateSystem: "cartesian2d", xAxisIndex: gi, yAxisIndex: gi, silent: true };

    // filled contour regions
    series.push({ type: "custom", ...onAxes, clip: true, z: 1, data: [-1, ...p.regions.map((_, k) => k)],
      renderItem: (params: any, api: any) => {
        const k = params.dataIndex - 1;
        if (k < 0) {
          return { type: "polygon", shape: { points: [[79,-3],[111,-3],[111,63],[79,63]].map((q) => api.coord(q)) }, style: { fill: p.bg } };
        }
        const [lv, pts] = p.regions[k];
        return { type: "polygon", shape: { points: pts.map((q) => api.coord(q)), smooth: 0.35 },
          style: { fill: p.fill[String(lv)] || "#ddd", stroke: CONTOUR, lineWidth: 0.7 } };
      } });
    // line-only contours
    series.push({ type: "custom", ...onAxes, clip: true, z: 2, data: p.lines.map((_, k) => k),
      renderItem: (params: any, api: any) => ({ type: "polyline", shape: { points: p.lines[params.dataIndex].map((q) => api.coord(q)), smooth: 0.35 },
        style: { fill: "none", stroke: CONTOUR, lineWidth: 0.7 } }) });
    // grey shaded band
    if (p.shade) {
      const shade = p.shade, c = p.shadeColor;
      series.push({ type: "custom", ...onAxes, clip: true, z: 3, data: [0],
        renderItem: (_: any, api: any) => ({ type: "polygon", shape: { points: shade.map((q) => api.coord(q)) }, style: { fill: c } }) });
    }
    if (p.ripples) {
      series.push({ type: "scatter", ...onAxes, z: 3, symbol: "circle", data: p.ripples.map((r) => [r[0], r[1]]),
        symbolSize: (_: any, params: any) => [p.ripples![params.dataIndex][2], p.ripples![params.dataIndex][3]],
        itemStyle: { color: "rgba(170,170,150,0.4)", borderColor: "rgba(110,110,110,0.7)", borderWidth: 0.8 } });
    }
    // contour labels
    series.push({ type: "custom", ...onAxes, clip: true, z: 4, data: p.labels.map((_, k) => k),
      renderItem: (params: any, api: any) => {
        const [f, a, t, r] = p.labels[params.dataIndex];
        const c = api.coord([f, a]);
        return { type: "text", x: c[0], y: c[1], rotation: (r * Math.PI) / 180,
          style: { text: t, fill: "#9a9a9a", font: `10px ${SERIF}`, align: "center", verticalAlign: "middle" } };
      } });
    // annotations
    const ln = (data: any[], color: string, width: number, type: any, z = 5, extra: any = {}) =>
      series.push({ type: "line", ...onAxes, data, symbol: "none", z, clip: true,
        lineStyle: { color, width, type }, itemStyle: { color }, ...extra });
    const [rh, rv1, rv2, ra, ra1, ra2] = p.red;
    const [bh, bv1, bv2, ba, ba1, ba2] = p.black;
    const bd = p.blackDash;
    ln([[80, bh], [110, bh]], "#111", 1.2, bd);
    ln([[bv1, bh], [bv1, 0]], "#111", 1.2, bd);
    ln([[bv2, bh], [bv2, 0]], "#111", 1.2, bd);
    ln([[80, rh], [110, rh]], "#EE2A35", 1.3, RD);
    ln([[rv1, rh], [rv1, 0]], "#EE2A35", 1.4, RD);
    ln([[rv2, rh], [rv2, 0]], "#EE2A35", 1.4, RD);
    const arrow = (a: number, f1: number, f2: number, color: string, dash: any) =>
      ln([{ value: [f1, a], symbol: "triangle", symbolRotate: 90, symbolSize: [6, 7] }, { value: [f2, a], symbol: "triangle", symbolRotate: -90, symbolSize: [6, 7] }],
        color, 1.2, dash, 6, { showSymbol: true, showAllSymbol: true, symbol: "triangle" });
    arrow(ba, ba1, ba2, "#111", bd);
    arrow(ra, ra1, ra2, "#EE2A35", [4, 1.5, 1.5, 1.5]);
    if (p.thick) {
      ln(p.thick, "#9c9c9c", 3, "solid", 6, { smooth: 0.3 });
      ln(p.thick, "#000", 3.6, [7, 2.6], 6, { smooth: 0.3 });
    }
    // text notes
    const notes: [number, number, string, string, string][] = [
      [p.num[0], p.num[1], p.num[2], "#EE2A35", "bold 11.5px Lato"],
      [p.num[3], p.num[4], p.num[5], "#111", "bold 11.5px Lato"],
      [p.bw[0], p.bw[1], "BW=10%", "#EE2A35", "600 11.5px Lato"],
      [p.bw[0], p.bw[2], "BW=20%", "#111", "600 11.5px Lato"],
    ];
    series.push({ type: "custom", ...onAxes, z: 7, data: notes.map((_, k) => k),
      renderItem: (params: any, api: any) => {
        const [f, a, t, col, font] = notes[params.dataIndex];
        const c = api.coord([f, a]);
        return { type: "text", x: c[0], y: c[1], style: { text: t, fill: col, font, align: "center", verticalAlign: "middle" } };
      } });

    // colour bar
    grid.push({ left: p.cb0, top: p.y0, width: p.cb1 - p.cb0, height: p.y1 - p.y0, show: false });
    xAxis.push({ gridIndex: gc, type: "value", min: 0, max: 1, show: false });
    yAxis.push({ gridIndex: gc, type: "value", min: p.bottom, max: p.top, position: "right", splitLine: { show: false },
      axisLine: { show: false },
      axisTick: { show: true, inside: true, length: 2, customValues: p.ticks, lineStyle: { color: "#444", width: 0.6 } },
      axisLabel: { customValues: p.ticks, fontFamily: SERIF, fontSize: 12.5, color: "#3c3c3c", margin: 3 } });
    series.push({ type: "custom", coordinateSystem: "cartesian2d", xAxisIndex: gc, yAxisIndex: gc, silent: true, z: 1, data: [0],
      renderItem: (_: any, api: any) => {
        const tl = api.coord([0, p.top]), br = api.coord([1, p.bottom]);
        return { type: "rect", shape: { x: tl[0], y: tl[1], width: br[0] - tl[0], height: br[1] - tl[1] },
          style: { fill: new echarts.graphic.LinearGradient(0, 0, 0, 1, stops), stroke: "#999", lineWidth: 0.5 } };
      } });

    elements.push({ type: "text", x: p.title[0], y: p.title[1],
      style: { text: p.title[2], fill: "#222", font: `bold ${p.title[3]}px ${SERIF}`, align: "center", verticalAlign: "middle" } });
  });
  captions.forEach(([x, y, t, sx]) => {
    elements.push({ type: "text", x, y, scaleX: sx, style: { text: t, fill: "#111", font: `17px ${SERIF}`, align: "left", verticalAlign: "middle" } });
  });
  return { animation: false, backgroundColor: "#fff", grid, xAxis, yAxis, series, graphic: { elements } };
}

export default function App() {
  const ref = useRef<HTMLDivElement>(null);
  useEffect(() => {
    const chart = echarts.init(ref.current!, undefined, { renderer: "svg" });
    chart.setOption(buildOption() as any);
    return () => chart.dispose();
  }, []);
  return <div ref={ref} style={{ position: "absolute", left: 0, top: 0, width: 683, height: 1683 }} />;
}
